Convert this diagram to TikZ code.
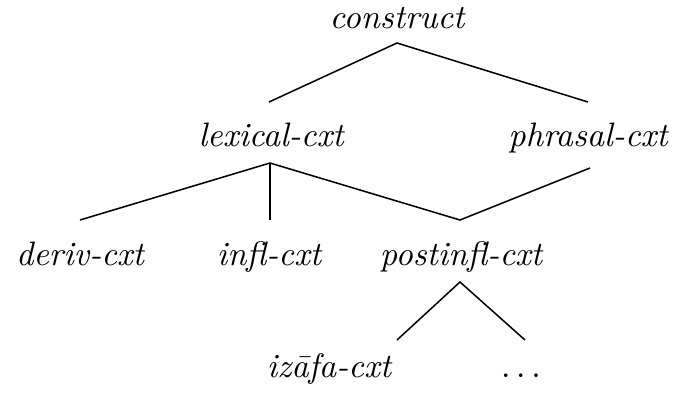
\documentclass[tikz,border=0pt]{standalone}
\usetikzlibrary{calc}
\begin{document}
\begin{tikzpicture}[x=0.295pt,y=-0.295pt,
  type/.style={inner sep=0pt,anchor=base,font=\itshape},
  link/.style={line width=0.45pt}]
\useasboundingbox (0,0) rectangle (674,397);
% type hierarchy nodes
\node[type] (construct) at (397,28) {construct};
\node[type] (lexical) at (271,146) {lexical-cxt};
\node[type] (phrasal) at (588,146) {phrasal-cxt};
\node[type] (deriv) at (80,265) {deriv-cxt};
\node[type] (infl) at (269,265) {infl-cxt};
\node[type] (postinfl) at (461,265) {postinfl-cxt};
\node[type] (izafa) at (329,377) {iz\={a}fa-cxt};
\node[type] (dots) at (521,377) {$\ldots$};
% subtype links
\draw[link] ($(lexical.base)+(-2,-44)$) -- ($(construct.base)+(0,15)$) -- ($(phrasal.base)+(0,-44)$);
\draw[link] ($(deriv.base)+(0,-45)$) -- ($(lexical.base)+(-1,17)$) -- ($(postinfl.base)+(-1,-45)$) -- ($(phrasal.base)+(2,22)$);
\draw[link] ($(lexical.base)+(-1,17)$) -- ($(infl.base)+(1,-45)$);
\draw[link] ($(izafa.base)+(68,-37)$) -- ($(postinfl.base)+(-1,17)$) -- ($(dots.base)+(4,-37)$);
\end{tikzpicture}
\end{document}
